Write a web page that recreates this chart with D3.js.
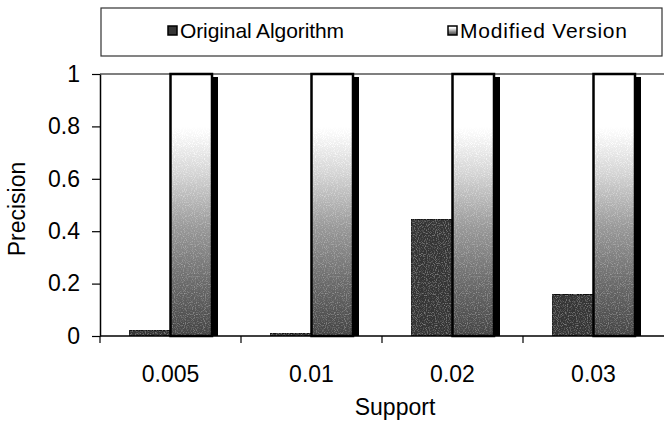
<!doctype html>
<html lang="en">
<head>
  <meta charset="utf-8">
  <title>Precision vs Support</title>
  <style>
    body { margin: 0; background: #fff; }
    svg { display: block; font-family: "Liberation Sans", Arial, Helvetica, sans-serif; }
    .tick text { fill: #000; }
  </style>
</head>
<body>
  <div id="chart"></div>
  <script src="https://cdn.jsdelivr.net/npm/d3@7"></script>
  <script>
// values
var categories = ["0.005", "0.01", "0.02", "0.03"];
var seriesNames = ["Original Algorithm", "Modified Version"];
var original = [0.022, 0.01, 0.445, 0.158];
var modified = [1, 1, 1, 1];
var yTicks = [0, 0.2, 0.4, 0.6, 0.8, 1];

(function() {
  var width = 664, height = 422;
  var plot = { left: 100, right: 664, top: 74, bottom: 336 };

  var svg = d3.select("#chart").append("svg")
      .attr("width", width)
      .attr("height", height);

  var defs = svg.append("defs");
  var grad = defs.append("linearGradient")
      .attr("id", "modFill")
      .attr("x1", 0).attr("y1", 0).attr("x2", 0).attr("y2", 1);
  [[0, "#ffffff"], [0.2, "#ffffff"], [0.38, "#d4d4d4"], [0.58, "#9a9a9a"], [0.8, "#6a6a6a"], [1, "#444444"]]
    .forEach(function(s) { grad.append("stop").attr("offset", s[0]).attr("stop-color", s[1]); });

  // a bit of grain like the printed original
  var grain = defs.append("filter").attr("id", "grain").attr("x", 0).attr("y", 0).attr("width", 1).attr("height", 1);
  grain.append("feTurbulence").attr("type", "fractalNoise").attr("baseFrequency", 0.9).attr("numOctaves", 1).attr("seed", 3).attr("result", "noise");
  grain.append("feColorMatrix").attr("in", "noise").attr("type", "matrix")
      .attr("values", "0.6 0 0 0 -0.3  0.6 0 0 0 -0.3  0.6 0 0 0 -0.3  0 0 0 0 1").attr("result", "n2");
  grain.append("feComposite").attr("in", "SourceGraphic").attr("in2", "n2")
      .attr("operator", "arithmetic").attr("k1", 0).attr("k2", 1).attr("k3", 1).attr("k4", 0);

  var x0 = d3.scaleBand().domain(categories).range([plot.left, plot.right]);
  var x1 = d3.scaleBand().domain(seriesNames).range([29, 112]);
  var y = d3.scaleLinear().domain([0, 1]).range([plot.bottom, plot.top]);

  // top frame line of plot area
  svg.append("line")
      .attr("x1", plot.left).attr("x2", plot.right)
      .attr("y1", y(1)).attr("y2", y(1))
      .attr("stroke", "#555").attr("stroke-width", 1.5);

  var groups = svg.selectAll("g.cat").data(categories).enter()
    .append("g").attr("class", "cat")
    .attr("transform", function(d) { return "translate(" + x0(d) + ",0)"; });

  // shadow behind modified bars
  groups.append("rect")
      .attr("x", function(d, i) { return x1("Modified Version") + x1.bandwidth(); })
      .attr("y", function(d, i) { return y(modified[i]) + 3; })
      .attr("width", 6)
      .attr("height", function(d, i) { return y(0) - y(modified[i]) - 3; })
      .attr("fill", "#000");

  groups.append("rect")
      .attr("x", x1("Original Algorithm"))
      .attr("y", function(d, i) { return y(original[i]); })
      .attr("width", x1.bandwidth())
      .attr("height", function(d, i) { return y(0) - y(original[i]); })
      .attr("fill", "#363636")
      .attr("stroke", "#111").attr("stroke-width", 1)
      .attr("filter", "url(#grain)");

  groups.append("rect")
      .attr("x", x1("Modified Version"))
      .attr("y", function(d, i) { return y(modified[i]); })
      .attr("width", x1.bandwidth())
      .attr("height", function(d, i) { return y(0) - y(modified[i]); })
      .attr("fill", "url(#modFill)")
      .attr("filter", "url(#grain)");

  groups.append("rect")
      .attr("x", x1("Modified Version"))
      .attr("y", function(d, i) { return y(modified[i]); })
      .attr("width", x1.bandwidth())
      .attr("height", function(d, i) { return y(0) - y(modified[i]); })
      .attr("fill", "none")
      .attr("stroke", "#000").attr("stroke-width", 2.5);

  // y axis
  var yAxis = svg.append("g")
      .attr("transform", "translate(" + plot.left + ",0)")
      .call(d3.axisLeft(y).tickValues(yTicks).tickFormat(d3.format("")).tickSize(8).tickPadding(12).tickSizeOuter(0));
  yAxis.select(".domain").attr("stroke", "#000").attr("stroke-width", 1.5);
  yAxis.selectAll(".tick line").attr("stroke", "#000").attr("stroke-width", 1.2);
  yAxis.selectAll(".tick text").attr("font-size", 23);

  // x axis: ticks on category boundaries, labels in the middle
  var xAxis = svg.append("g").attr("transform", "translate(0," + plot.bottom + ")");
  xAxis.append("line")
      .attr("x1", plot.left).attr("x2", plot.right)
      .attr("stroke", "#000").attr("stroke-width", 1.5);
  var bounds = categories.map(function(c) { return x0(c); });
  xAxis.selectAll("line.tk").data(bounds).enter().append("line")
      .attr("class", "tk")
      .attr("x1", function(d) { return d; }).attr("x2", function(d) { return d; })
      .attr("y1", 0).attr("y2", 7)
      .attr("stroke", "#000").attr("stroke-width", 1.2);
  xAxis.selectAll("text").data(categories).enter().append("text")
      .attr("x", function(d) { return x0(d) + x0.bandwidth() / 2; })
      .attr("y", 46)
      .attr("text-anchor", "middle")
      .attr("font-size", 23)
      .text(function(d) { return d; });

  // axis titles
  svg.append("text")
      .attr("x", (plot.left + plot.right) / 2 + 13)
      .attr("y", 415)
      .attr("text-anchor", "middle")
      .attr("font-size", 23)
      .text("Support");
  svg.append("text")
      .attr("transform", "translate(25,209) rotate(-90)")
      .attr("text-anchor", "middle")
      .attr("font-size", 23)
      .text("Precision");

  // legend
  var legend = svg.append("g");
  legend.append("rect")
      .attr("x", 101).attr("y", 8).attr("width", 561).attr("height", 48)
      .attr("fill", "#fff").attr("stroke", "#333").attr("stroke-width", 1.2);
  var items = [
    { name: seriesNames[0], x: 168, len: 164, fill: "#363636" },
    { name: seriesNames[1], x: 448, len: 167, fill: "url(#modFill)" }
  ];
  var li = legend.selectAll("g.item").data(items).enter().append("g")
      .attr("transform", function(d) { return "translate(" + d.x + ",0)"; });
  li.append("rect")
      .attr("x", 0).attr("y", 26).attr("width", 9).attr("height", 9)
      .attr("fill", function(d) { return d.fill; })
      .attr("stroke", "#000").attr("stroke-width", 1.5);
  li.append("text")
      .attr("x", 12).attr("y", 38)
      .attr("font-size", 21)
      .attr("textLength", function(d) { return d.len; })
      .attr("lengthAdjust", "spacing")
      .text(function(d) { return d.name; });
})();
  </script>
</body>
</html>
